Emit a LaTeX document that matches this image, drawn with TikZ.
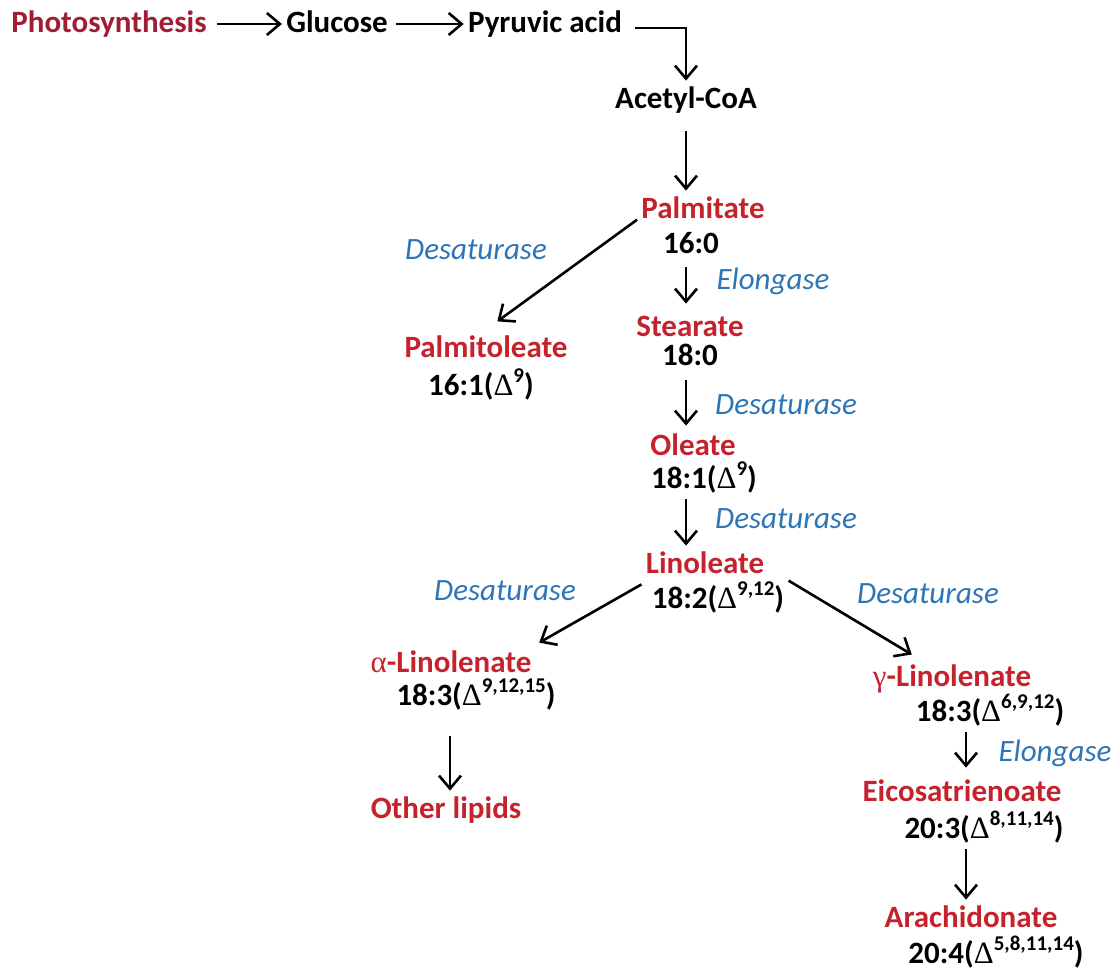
\documentclass[tikz,border=0pt]{standalone}
\usepackage{fontspec}
\setmainfont{Carlito}
\newfontfamily\greekfont{Liberation Serif}
\usepackage{xcolor}
\definecolor{acidred}{HTML}{C5222D}
\definecolor{sourcered}{HTML}{A11D33}
\definecolor{enzblue}{HTML}{2E75B6}
\usetikzlibrary{arrows.meta, calc}
\newcommand{\dlt}[1]{({\greekfont\mdseries Δ}\raisebox{0.4em}{\fontsize{10.5}{12}\selectfont #1})}

\begin{document}
\begin{tikzpicture}[x=0.5pt, y=-0.5pt, >={Straight Barb[length=6.5pt,width=11pt]},
  acid/.style={font=\fontsize{15.5}{18}\selectfont\bfseries, text=acidred,
               inner sep=2pt, text height=11.5pt, text depth=3.5pt},
  ratio/.style={acid, text=black},
  enzyme/.style={font=\fontsize{15.5}{18}\selectfont\itshape, text=enzblue,
                 inner sep=2pt},
  flow/.style={->, line width=1.3pt}]

  \useasboundingbox (0,0) rectangle (1117,970);

  \coordinate (spine) at (686,0);
  \coordinate (leftspine) at (450,0);
  \coordinate (rightspine) at (966,0);

  \node[acid, text=sourcered] (photo) at (109,24) {Photosynthesis};
  \node[ratio] (glucose) at (337,24) {Glucose};
  \node[ratio] (pyruvate) at (545,24) {Pyruvic acid};
  \node[ratio] (acetyl) at (686,100) {Acetyl-CoA};

  \node[acid] (palmitate) at (703,210) {Palmitate};
  \node[ratio] (p160) at (691,245) {16:0};
  \node[enzyme] (d1) at (476,250) {Desaturase};
  \node[acid] (palmitoleate) at (486,349) {Palmitoleate};
  \node[ratio] (p161) at (481,387) {16:1\dlt{9}};

  \node[enzyme] (el1) at (773,281) {Elongase};
  \node[acid] (stearate) at (690,328) {Stearate};
  \node[ratio] (s180) at (690,357) {18:0};
  \node[enzyme] (d2) at (786,405) {Desaturase};
  \node[acid] (oleate) at (693,447) {Oleate};
  \node[ratio] (o181) at (704,480) {18:1\dlt{9}};
  \node[enzyme] (d3) at (786,519) {Desaturase};
  \node[acid] (linoleate) at (705,565) {Linoleate};
  \node[ratio] (l182) at (718,600) {18:2\dlt{9,12}};

  \node[enzyme] (d4) at (505,591) {Desaturase};
  \node[enzyme] (d5) at (928,594) {Desaturase};
  \node[acid] (alinolenate) at (451,664) {{\greekfont\mdseries α}-Linolenate};
  \node[ratio] (a183) at (476,697) {18:3\dlt{9,12,15}};
  \node[acid] (other) at (446,810) {Other lipids};

  \node[acid] (glinolenate) at (952,678) {{\greekfont\mdseries γ}-Linolenate};
  \node[ratio] (g183) at (990,713) {18:3\dlt{6,9,12}};
  \node[enzyme] (el2) at (1055,753) {Elongase};
  \node[acid] (eicosa) at (962,793) {Eicosatrienoate};
  \node[ratio] (e203) at (984,830) {20:3\dlt{8,11,14}};
  \node[acid] (arachidonate) at (971,919) {Arachidonate};
  \node[ratio] (a204) at (996,955) {20:4\dlt{5,8,11,14}};

  \draw[flow, shorten <=3pt] (photo) -- (glucose);
  \draw[flow, shorten <=2pt] (glucose) -- (pyruvate);
  \draw[flow, shorten <=4.5pt] ([yshift=-2pt]pyruvate.east) -| (acetyl.north);
  \draw[flow, shorten <=6pt] (spine |- acetyl.south) -- (spine |- palmitate.north);
  \draw[flow, shorten >=7pt] ($(palmitate.west)!0.5!(palmitate.south west)$)
    -- (palmitoleate.north);
  \draw[flow, shorten <=1.5pt, shorten >=2.5pt] (spine |- p160.south) -- (spine |- stearate.north);
  \draw[flow, shorten <=2pt, shorten >=1pt] (spine |- s180.south) -- (spine |- oleate.north);
  \draw[flow] (spine |- o181.south) -- (spine |- linoleate.north);
  \draw[flow, shorten >=2pt] (linoleate.south west) -- (alinolenate.north east);
  \draw[flow, shorten >=4pt] (l182.north east)
    -- ($(glinolenate.north west)!0.3!(glinolenate.north east)$);
  \draw[flow, shorten <=10pt] (leftspine |- a183.south) -- (leftspine |- other.north);
  \draw[flow, shorten >=3pt] (rightspine |- g183.south) -- (rightspine |- eicosa.north);
  \draw[flow] (rightspine |- e203.south) -- (rightspine |- arachidonate.north);

\end{tikzpicture}
\end{document}
